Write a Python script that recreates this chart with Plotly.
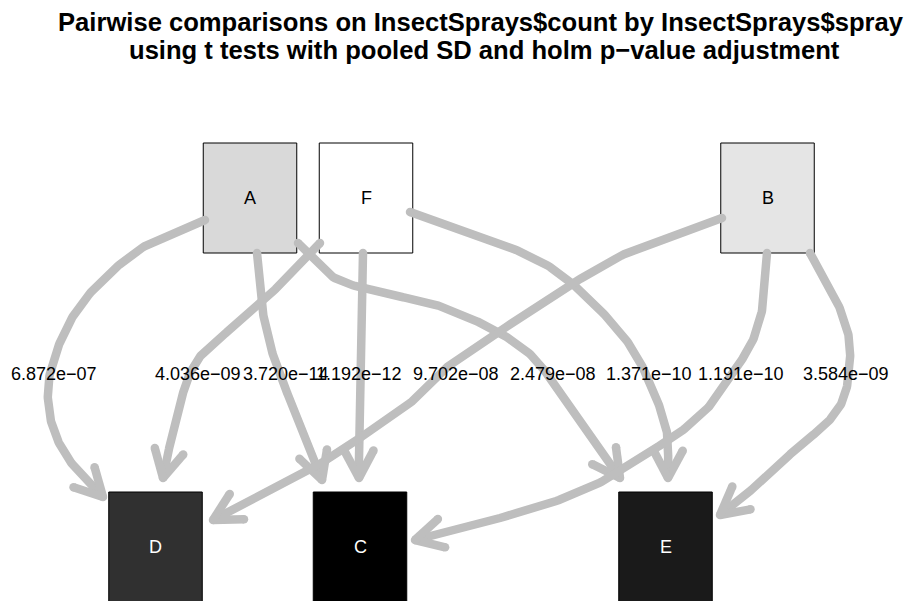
import numpy as np
import plotly.graph_objects as go

# ---------------- data ----------------
title_lines = [
    "Pairwise comparisons on InsectSprays$count by InsectSprays$spray",
    "using t tests with pooled SD and holm p\u2212value adjustment",
]

node_names = ["A", "F", "B", "D", "C", "E"]
node_x = [250, 366, 767.5, 155.5, 360, 665.5]
node_y = [198, 198, 198, 547, 547, 547]
node_fill = ["#D9D9D9", "#FFFFFF", "#E5E5E5", "#303030", "#000000", "#1A1A1A"]
node_text_color = ["black", "black", "black", "white", "white", "white"]

edge_from = ["A", "A", "A", "F", "F", "F", "B", "B", "B"]
edge_to = ["D", "C", "E", "D", "C", "E", "D", "C", "E"]
edge_pvalue = ["6.872e\u221207", "3.720e\u221214", "2.479e\u221208",
               "4.036e\u221209", "1.192e\u221212", "1.371e\u221210",
               "9.702e\u221208", "1.191e\u221210", "3.584e\u221209"]
edge_label_x = [54, 286, 553, 198, 359, 648.5, 456, 741, 845.5]
edge_label_y = [373.7] * 9

# spline routes of the edges (graph layout, pixel-like units)
edge_routes = [
    [(205, 220), (150, 243), (110, 273), (77, 310), (57, 350), (48, 387), (52, 425), (67, 457), (85, 478), (103, 497)],
    [(257, 253), (260, 293), (267, 333), (277, 367), (290, 400), (303, 433), (315, 460), (322, 480)],
    [(298, 243), (333, 277), (383, 293), (430, 303), (467, 317), (500, 333), (533, 357), (565, 400), (593, 440), (620, 478)],
    [(320, 243), (300, 265), (267, 297), (233, 327), (203, 353), (190, 373), (181, 400), (172, 433), (167, 460), (163, 478)],
    [(363, 253), (361, 320), (359, 400), (359, 478)],
    [(410, 212), (483, 237), (550, 267), (600, 310), (633, 350), (657, 400), (667, 433), (668, 478)],
    [(722, 218), (633, 250), (567, 287), (497, 333), (455, 360), (420, 395), (367, 433), (327, 460), (267, 490), (213, 520)],
    [(767, 253), (764, 300), (753, 340), (733, 373), (715, 400), (683, 430), (653, 450), (620, 472), (567, 497), (500, 518), (450, 531), (415, 540)],
    [(810, 253), (833, 293), (848, 333), (850, 360), (843, 400), (825, 425), (800, 445), (767, 477), (745, 495), (720, 515)],
]

# ---------------- style ----------------
FONT = "Liberation Sans, Arial, Helvetica, sans-serif"
EDGE_COLOR = "#BEBEBE"
EDGE_W = 8.5
ARROW_LEN = 31
ARROW_ANG = np.deg2rad(28)
BOX_W, BOX_H = 93.5, 110
W, H = 914, 601
PAGE_OFF = 8  # default body margin of the html page


def catmull_rom(pts, n=24):
    P = np.asarray(pts, float)
    P = np.vstack([2 * P[0] - P[1], P, 2 * P[-1] - P[-2]])
    out = []
    for i in range(1, len(P) - 2):
        p0, p1, p2, p3 = P[i - 1], P[i], P[i + 1], P[i + 2]
        t0 = 0.0
        t1 = t0 + np.linalg.norm(p1 - p0) ** 0.5
        t2 = t1 + np.linalg.norm(p2 - p1) ** 0.5
        t3 = t2 + np.linalg.norm(p3 - p2) ** 0.5
        t = np.linspace(t1, t2, n, endpoint=(i == len(P) - 3))[:, None]
        A1 = (t1 - t) / (t1 - t0) * p0 + (t - t0) / (t1 - t0) * p1
        A2 = (t2 - t) / (t2 - t1) * p1 + (t - t1) / (t2 - t1) * p2
        A3 = (t3 - t) / (t3 - t2) * p2 + (t - t2) / (t3 - t2) * p3
        B1 = (t2 - t) / (t2 - t0) * A1 + (t - t0) / (t2 - t0) * A2
        B2 = (t3 - t) / (t3 - t1) * A2 + (t - t1) / (t3 - t1) * A3
        C = (t2 - t) / (t2 - t1) * B1 + (t - t1) / (t2 - t1) * B2
        out.append(C)
    return np.vstack(out)


fig = go.Figure()

# nodes (boxes under the edges)
for name, cx, cy, fill, tc in zip(node_names, node_x, node_y, node_fill, node_text_color):
    fig.add_shape(type="rect", x0=cx - BOX_W / 2, x1=cx + BOX_W / 2,
                  y0=cy - BOX_H / 2, y1=cy + BOX_H / 2,
                  fillcolor=fill, line=dict(color="black", width=1), layer="below")
    fig.add_annotation(x=cx, y=cy, text=name, showarrow=False,
                       xanchor="center", yanchor="middle",
                       font=dict(family=FONT, size=18, color=tc))

# edges
for route in edge_routes:
    curve = catmull_rom(route)
    tip = curve[-1]
    d = np.linalg.norm(curve - tip, axis=1)
    k = np.where(d >= 14)[0][-1]
    u = (tip - curve[k]) / np.linalg.norm(tip - curve[k])
    back = -u
    wings = []
    for s in (1, -1):
        c, sn = np.cos(s * ARROW_ANG), np.sin(s * ARROW_ANG)
        r = np.array([c * back[0] - sn * back[1], sn * back[0] + c * back[1]])
        wings.append(tip + ARROW_LEN * r)
    xs = list(curve[:, 0]) + [None, wings[0][0], tip[0], None, tip[0], wings[1][0]]
    ys = list(curve[:, 1]) + [None, wings[0][1], tip[1], None, tip[1], wings[1][1]]
    fig.add_trace(go.Scatter(x=xs, y=ys, mode="lines",
                             line=dict(color=EDGE_COLOR, width=EDGE_W),
                             hoverinfo="skip"))
    fig.add_trace(go.Scatter(x=[curve[0, 0], tip[0], wings[0][0], wings[1][0]],
                             y=[curve[0, 1], tip[1], wings[0][1], wings[1][1]],
                             mode="markers",
                             marker=dict(color=EDGE_COLOR, size=EDGE_W, line=dict(width=0)),
                             hoverinfo="skip"))

# edge labels
for lab, lx, ly in zip(edge_pvalue, edge_label_x, edge_label_y):
    fig.add_annotation(x=lx, y=ly, text=lab, showarrow=False,
                       xanchor="center", yanchor="middle",
                       font=dict(family=FONT, size=18, color="black"))

# title
title_x = [480.5, 484]
title_y = [22, 49.5]
for t, tx, ty in zip(title_lines, title_x, title_y):
    fig.add_annotation(x=tx, y=ty, text="<b>" + t + "</b>", showarrow=False,
                       xanchor="center", yanchor="middle",
                       font=dict(family=FONT, size=25.6, color="black"))

fig.update_layout(
    width=W - PAGE_OFF, height=H - PAGE_OFF, margin=dict(l=0, r=0, t=0, b=0),
    paper_bgcolor="white", plot_bgcolor="white", showlegend=False,
    xaxis=dict(range=[PAGE_OFF, W], visible=False, fixedrange=True),
    yaxis=dict(range=[H, PAGE_OFF], visible=False, fixedrange=True),
)

fig.write_html("out.html")
